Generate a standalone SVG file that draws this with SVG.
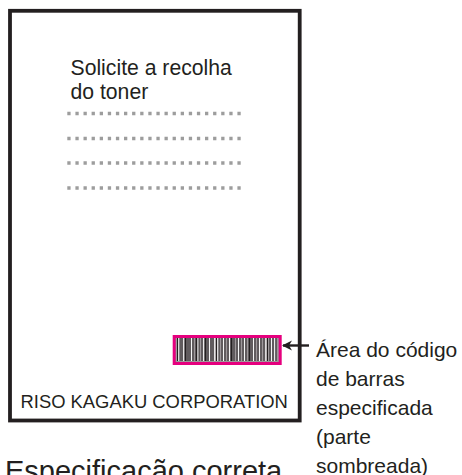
<svg xmlns="http://www.w3.org/2000/svg" width="462" height="475" viewBox="0 0 462 475">
<defs>
<style>
.t{font-family:"Liberation Sans",Arial,sans-serif;fill:#231f20}
.dots{stroke:#9d9d9d;stroke-width:3.4;stroke-dasharray:3.3 4.8;fill:none}
.blk{stroke:#231f20;fill:none}
.wht{stroke:#ffffff;fill:none}
</style>
<marker id="ah" viewBox="0 0 10 10" refX="9" refY="5" markerWidth="4.2" markerHeight="4.2" orient="auto-start-reverse" markerUnits="strokeWidth">
<path d="M0,0 L10,5 L0,10 L3,5 Z" fill="#231f20"/>
</marker>
</defs>
<rect width="462" height="475" fill="#ffffff"/>
<g id="label">
<rect x="10" y="10.8" width="289.7" height="409.7" fill="none" stroke="#231f20" stroke-width="3.8"/>
<text class="t" x="70.5" y="74.5" font-size="21.2">Solicite a recolha</text>
<text class="t" x="70.5" y="99" font-size="21.2">do toner</text>
<g id="dotted-lines">
<line class="dots" x1="67.3" y1="113.5" x2="241" y2="113.5"/>
<line class="dots" x1="67.3" y1="138.5" x2="241" y2="138.5"/>
<line class="dots" x1="67.3" y1="163" x2="241" y2="163"/>
<line class="dots" x1="67.3" y1="188" x2="241" y2="188"/>
</g>
<text class="t" x="20.5" y="407.8" font-size="18.4">RISO KAGAKU CORPORATION</text>
</g>
<g id="barcode">
<rect x="174.2" y="336.5" width="106" height="27" fill="#9e989b" stroke="#e5007e" stroke-width="3"/>
<path class="blk" stroke-width="1" d="M177.5,338v23M180,338v23M182,338v23M188,338v23M190,338v23M193,338v23M199,338v23M202,338v23M208,338v23M211,338v23M213,338v23M216.5,338v23M219,338v23M222,338v23M225,338v23M228,338v23M234,338v23M237,338v23M240,338v23M243,338v23M246,338v23M252,338v23M255,338v23M258,338v23M261,338v23M264,338v23M267.5,338v23M270,338v23M273,338v23M276,338v23"/>
<path class="blk" stroke-width="2" d="M185.5,338v23M205.5,338v23M231.5,338v23M249.5,338v23M196.5,338v23"/>
<path class="wht" stroke-width="0.9" d="M178.8,338v23M183.7,338v23M191.5,338v23M197.9,338v23M203.6,338v23M209.5,338v23M217.8,338v23M223.5,338v23M229.5,338v23M238.5,338v23M244.5,338v23M253.5,338v23M259.5,338v23M265.8,338v23M271.5,338v23M214.7,338v23M274.6,338v23"/>
</g>
<g id="connectors">
<line x1="309" y1="345.5" x2="283" y2="345.5" stroke="#231f20" stroke-width="2.4" marker-end="url(#ah)"/>
</g>
<g id="callout">
<text class="t" font-size="21">
<tspan x="316" y="357">Área do código</tspan>
<tspan x="316" y="386.2">de barras</tspan>
<tspan x="316" y="415.2">especificada</tspan>
<tspan x="316" y="444.3">(parte</tspan>
<tspan x="316" y="473.3">sombreada)</tspan>
</text>
</g>
<g id="caption">
<text class="t" x="5" y="480.5" font-size="29">Especificação correta</text>
</g>
</svg>
